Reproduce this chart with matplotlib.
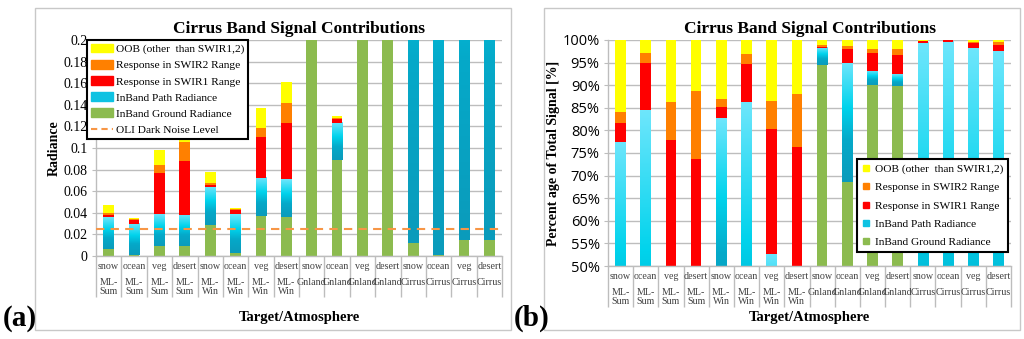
import numpy as np
import matplotlib
matplotlib.use('Agg')
import matplotlib.pyplot as plt
from matplotlib.colors import LinearSegmentedColormap
from matplotlib.patches import Rectangle, Patch
from matplotlib.lines import Line2D

# categories
targets = ['snow', 'ocean', 'veg', 'desert'] * 4
atmos = ['ML-\nSum'] * 4 + ['ML-\nWin'] * 4 + ['Gnland'] * 4 + ['Cirrus'] * 4

# radiance components per bar (bottom to top)
ground = [0.0069, 0.0008, 0.0095, 0.0088, 0.0283, 0.0026, 0.0370, 0.0365,
          0.378, 0.0887, 0.270, 0.2874, 0.012, 0.0008, 0.015, 0.0145]
path = [0.0295, 0.0292, 0.0290, 0.0288, 0.0358, 0.0360, 0.0352, 0.0347,
        0.0152, 0.0343, 0.0096, 0.0083, 0.485, 0.4972, 0.4765, 0.4735]
swir1 = [0.0020, 0.0037, 0.0379, 0.0501, 0.0019, 0.0037, 0.0378, 0.0516,
         0.0008, 0.0039, 0.0120, 0.0134, 0.0015, 0.0015, 0.0050, 0.0070]
swir2 = [0.0011, 0.0008, 0.0081, 0.0180, 0.0013, 0.0010, 0.0086, 0.0189,
         0.0012, 0.0009, 0.0021, 0.0045, 0.0003, 0.0001, 0.0010, 0.0025]
oob = [0.0075, 0.0010, 0.0135, 0.0133, 0.0102, 0.0014, 0.0184, 0.0193,
       0.0048, 0.0017, 0.0063, 0.0064, 0.0012, 0.0004, 0.0025, 0.0025]
dark_noise = 0.025

SERIF = 'Liberation Serif'
C_YEL, C_ORA, C_RED, C_GRN = '#ffff00', '#ff8000', '#ff0000', '#8cbb4f'
GRID = '#bdbdbd'
blue_cmap = LinearSegmentedColormap.from_list(
    'path', [(0.0, '#0b9bbb'), (0.35, '#05a9c9'), (0.62, '#00d3ec'), (1.0, '#6ee6fc')])

comps = np.array([ground, path, swir1, swir2, oob])
total = comps.sum(axis=0)
x = np.arange(len(targets))
w = 0.42


def draw_bars(ax, data):
    bottom = np.zeros(len(x))
    for vals, col in zip(data, [C_GRN, None, C_RED, C_ORA, C_YEL]):
        if col is None:
            # gradient fill for the path radiance segments
            grad = np.linspace(0, 1, 256).reshape(-1, 1)
            for xi, b, v in zip(x, bottom, vals):
                ax.imshow(grad, cmap=blue_cmap, origin='lower', aspect='auto',
                          extent=(xi - w / 2, xi + w / 2, b, b + v), zorder=2,
                          interpolation='bilinear')
        else:
            ax.bar(x, vals, w, bottom=bottom, color=col, zorder=2, linewidth=0)
        bottom = bottom + vals


def style_axes(ax, ylim, yticks, labels, labfont):
    ax.set_xlim(-0.5, len(x) - 0.5)
    ax.set_ylim(*ylim)
    ax.set_yticks(yticks)
    ax.set_yticklabels(labels, **labfont)
    ax.yaxis.grid(True, color=GRID, linewidth=1.0, zorder=0)
    ax.set_axisbelow(True)
    for s in ['top', 'right']:
        ax.spines[s].set_visible(False)
    for s in ['left', 'bottom']:
        ax.spines[s].set_color(GRID)
        ax.spines[s].set_linewidth(1.0)
    ax.tick_params(axis='y', length=3, color=GRID, pad=3)
    ax.set_xticks(np.arange(len(x) + 1) - 0.5)
    ax.set_xticklabels([])
    ax.tick_params(axis='x', length=29.5, color=GRID, width=1.0)
    for xi, t, a in zip(x, targets, atmos):
        ax.annotate(t, (xi, 0), xycoords=('data', 'axes fraction'), xytext=(0, -7.8),
                    textcoords='offset points', ha='center', va='center',
                    fontsize=7.2, family=SERIF, color='#404040')
        ax.annotate(a, (xi, 0), xycoords=('data', 'axes fraction'), xytext=(0, -15.5),
                    textcoords='offset points', ha='center', va='top',
                    fontsize=7.2, family=SERIF, color='#404040', linespacing=1.05)
    ax.set_title('Cirrus Band Signal Contributions', family=SERIF, fontweight='bold',
                 fontsize=12.5, pad=5)


fig = plt.figure(figsize=(10.24, 3.39), dpi=100)
fig.patches.append(Rectangle((35 / 1024, 1 - 330 / 339), 476 / 1024, 322 / 339,
                             transform=fig.transFigure, fill=False, edgecolor='#c8c8c8', lw=1))
fig.patches.append(Rectangle((544 / 1024, 1 - 330 / 339), 476 / 1024, 322 / 339,
                             transform=fig.transFigure, fill=False, edgecolor='#c8c8c8', lw=1))

# (a) absolute radiance
ax1 = fig.add_axes([96 / 1024, 83 / 339, 406 / 1024, 216 / 339])
draw_bars(ax1, comps)
ax1.axhline(dark_noise, color='#f79646', linestyle=(0, (4, 3)), linewidth=1.5, zorder=3)
yt = np.arange(0, 0.201, 0.02)
style_axes(ax1, (0, 0.2), yt, ['0'] + ['%g' % v for v in yt[1:]],
           dict(family=SERIF, fontsize=10))
ax1.set_ylabel('Radiance', family=SERIF, fontweight='bold', fontsize=10, labelpad=2)
ax1.text(0.5, -0.285, 'Target/Atmosphere', transform=ax1.transAxes, ha='center', va='center',
         family=SERIF, fontweight='bold', fontsize=10.5)
handles = [Patch(color=C_YEL), Patch(color=C_ORA), Patch(color=C_RED),
           Patch(color='#0ec2e2'), Patch(color=C_GRN),
           Line2D([], [], color='#f79646', linestyle=(0, (3, 2)), linewidth=1.5)]
names = ['OOB (other  than SWIR1,2)', 'Response in SWIR2 Range', 'Response in SWIR1 Range',
         'InBand Path Radiance', 'InBand Ground Radiance', 'OLI Dark Noise Level']
leg = ax1.legend(handles, names, loc='upper left', bbox_to_anchor=(-0.022, 1.0),
                 prop=dict(family=SERIF, size=8.2), fancybox=False, framealpha=1,
                 edgecolor='black', borderpad=0.35, labelspacing=0.52, handlelength=1.9,
                 handleheight=0.75, handletextpad=0.3, borderaxespad=0)
leg.get_frame().set_linewidth(1.5)
leg.set_zorder(5)

# (b) percentage of total
ax2 = fig.add_axes([608 / 1024, 73 / 339, 403 / 1024, 226 / 339])
draw_bars(ax2, comps / total * 100)
yt2 = np.arange(50, 100.1, 5)
style_axes(ax2, (50, 100), yt2, ['%d%%' % v for v in yt2],
           dict(family='Open Sans', fontsize=10.5))
ax2.set_ylabel('Percent age of Total Signal [%]', family=SERIF, fontweight='bold',
               fontsize=10, labelpad=2)
ax2.text(0.5, -0.23, 'Target/Atmosphere', transform=ax2.transAxes, ha='center', va='center',
         family=SERIF, fontweight='bold', fontsize=10.5)
mk = dict(marker='s', linestyle='none', markersize=5)
handles2 = [Line2D([], [], color=C_YEL, **mk), Line2D([], [], color=C_ORA, **mk),
            Line2D([], [], color=C_RED, **mk), Line2D([], [], color='#0ec2e2', **mk),
            Line2D([], [], color=C_GRN, **mk)]
leg2 = ax2.legend(handles2, names[:5], loc='lower right', bbox_to_anchor=(0.993, 0.062),
                  prop=dict(family=SERIF, size=8.2), fancybox=False, framealpha=1,
                  edgecolor='black', borderpad=0.45, labelspacing=0.72, handlelength=0.6,
                  handletextpad=0.5, borderaxespad=0)
leg2.get_frame().set_linewidth(1.5)
leg2.set_zorder(5)

fig.text(3 / 1024, 1 - 318 / 339, '(a)', family=SERIF, fontweight='bold', fontsize=21,
         va='center', ha='left')
fig.text(514 / 1024, 1 - 318 / 339, '(b)', family=SERIF, fontweight='bold', fontsize=21,
         va='center', ha='left')

fig.savefig('out.png', dpi=100)
